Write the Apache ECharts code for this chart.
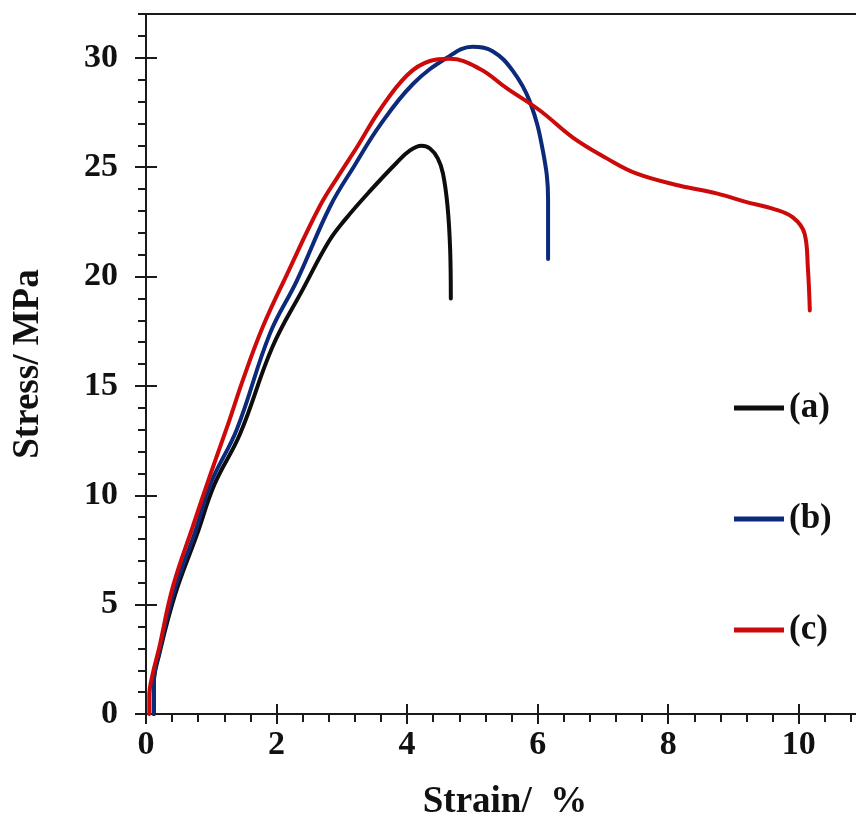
<!DOCTYPE html>
<html>
<head>
<meta charset="utf-8">
<title>Stress–strain curves</title>
<script src="https://cdn.jsdelivr.net/npm/echarts@6/dist/echarts.min.js"></script>
<style>
  html, body { margin: 0; padding: 0; background: #fff; }
  #chart { width: 856px; height: 826px; }
</style>
</head>
<body>
<div id="chart"></div>
<script>
// Stress–strain data, [strain %, stress MPa]
const seriesNames = ['(a)', '(b)', '(c)'];
const seriesColors = ['#0d0d0d', '#0c2a7a', '#cc0a0a'];

const curveA = [
  [0.12, 0], [0.12, 1.4], [0.2, 2.7], [0.45, 5.5], [0.78, 8.2], [1.05, 10.5],
  [1.44, 12.8], [1.94, 16.8], [2.4, 19.4], [2.8, 21.6], [3.05, 22.6],
  [3.43, 23.9], [3.84, 25.2], [4.04, 25.75], [4.22, 25.98], [4.35, 25.85],
  [4.47, 25.4], [4.55, 24.7], [4.62, 23.2], [4.66, 21.2], [4.67, 19.0]
];
const curveB = [
  [0.12, 0], [0.12, 1.5], [0.2, 2.8], [0.43, 5.6], [0.75, 8.3], [1.0, 10.6],
  [1.39, 13.0], [1.9, 17.4], [2.31, 19.8], [2.82, 23.2], [3.2, 25.1],
  [3.58, 26.9], [4.09, 28.8], [4.61, 30.0], [5.0, 30.5], [5.31, 30.3],
  [5.62, 29.4], [5.88, 28.0], [6.08, 25.75], [6.16, 23.5], [6.16, 20.8]
];
const curveC = [
  [0.05, 0], [0.05, 0.8], [0.1, 1.8], [0.2, 3.0], [0.41, 5.8], [0.72, 8.6],
  [0.98, 10.9], [1.24, 13.1], [1.5, 15.4], [1.79, 17.7], [2.16, 20.1],
  [2.66, 23.2], [2.97, 24.7], [3.25, 26.0], [3.58, 27.6], [4.0, 29.2],
  [4.35, 29.85], [4.65, 29.95], [5.11, 29.5], [5.53, 28.6], [6.03, 27.6],
  [6.54, 26.35], [7.06, 25.4], [7.52, 24.7], [8.18, 24.15], [8.74, 23.8],
  [9.2, 23.4], [9.6, 23.1], [9.91, 22.7], [10.09, 21.95], [10.14, 20.4],
  [10.17, 18.45]
];
const curves = [curveA, curveB, curveC];

// Axis ranges and tick labels
const xTickLabels = [0, 2, 4, 6, 8, 10];
const yTickLabels = [0, 5, 10, 15, 20, 25, 30];
const xRange = [0, 11];
const yRange = [0, 32];

const FONT = '"Liberation Serif", "Times New Roman", serif';
const INK = '#1a1a1a';

const chart = echarts.init(document.getElementById('chart'), null, { renderer: 'canvas' });

// Primary axes carry labels, line and outward major ticks.
// Extra axes add inward halves of major ticks and outward minor ticks.
const xAxes = [
  {
    type: 'value', position: 'bottom', min: xRange[0], max: xRange[1], interval: 2,
    splitLine: { show: false },
    axisLine: { onZero: false, lineStyle: { color: INK, width: 2 } },
    axisTick: { inside: false, length: 10, lineStyle: { color: INK, width: 2 }, customValues: xTickLabels },
    axisLabel: {
      customValues: xTickLabels, margin: 14,
      fontFamily: FONT, fontWeight: 'bold', fontSize: 34, color: '#111'
    },
    name: 'Strain/  %', nameLocation: 'middle', nameGap: 70,
    nameTextStyle: { fontFamily: FONT, fontWeight: 'bold', fontSize: 37, color: '#111' }
  },
  {
    type: 'value', position: 'bottom', min: xRange[0], max: xRange[1], interval: 2,
    splitLine: { show: false }, axisLine: { show: false, onZero: false },
    axisTick: { inside: true, length: 10, lineStyle: { color: INK, width: 2 }, customValues: xTickLabels },
    axisLabel: { show: false }
  },
  {
    type: 'value', position: 'bottom', min: xRange[0], max: xRange[1], interval: 0.4,
    splitLine: { show: false }, axisLine: { show: false, onZero: false },
    axisTick: { inside: false, length: 8, lineStyle: { color: INK, width: 2 } },
    axisLabel: { show: false }
  }
];

const yAxes = [
  {
    type: 'value', position: 'left', min: yRange[0], max: yRange[1], interval: 5,
    splitLine: { show: false },
    axisLine: { onZero: false, lineStyle: { color: INK, width: 2 } },
    axisTick: { inside: false, length: 11, lineStyle: { color: INK, width: 2 }, customValues: yTickLabels },
    axisLabel: {
      customValues: yTickLabels, margin: 28,
      fontFamily: FONT, fontWeight: 'bold', fontSize: 34, color: '#111'
    },
    name: 'Stress/ MPa', nameLocation: 'middle', nameGap: 99, nameRotate: 90,
    nameTextStyle: { fontFamily: FONT, fontWeight: 'bold', fontSize: 37, color: '#111' }
  },
  {
    type: 'value', position: 'left', min: yRange[0], max: yRange[1], interval: 5,
    splitLine: { show: false }, axisLine: { show: false, onZero: false },
    axisTick: { inside: true, length: 11, lineStyle: { color: INK, width: 2 }, customValues: yTickLabels },
    axisLabel: { show: false }
  },
  {
    type: 'value', position: 'left', min: yRange[0], max: yRange[1], interval: 1,
    splitLine: { show: false }, axisLine: { show: false, onZero: false },
    axisTick: { inside: false, length: 8, lineStyle: { color: INK, width: 2 } },
    axisLabel: { show: false }
  }
];

const option = {
  animation: false,
  backgroundColor: '#ffffff',
  grid: {
    left: 146, top: 14, right: -8, bottom: 112,
    containLabel: false, outerBoundsMode: 'none',
    show: true, borderColor: INK, borderWidth: 2, backgroundColor: 'transparent'
  },
  xAxis: xAxes,
  yAxis: yAxes,
  legend: {
    orient: 'vertical', left: 729, top: 385,
    itemWidth: 50, itemHeight: 5, itemGap: 75,
    icon: 'rect',
    data: seriesNames,
    textStyle: { fontFamily: FONT, fontWeight: 'bold', fontSize: 35, color: '#111', lineHeight: 36 }
  },
  series: curves.map((pts, i) => ({
    name: seriesNames[i],
    type: 'line',
    data: pts,
    xAxisIndex: 0, yAxisIndex: 0,
    showSymbol: false,
    smooth: 0.4,
    color: seriesColors[i],
    lineStyle: { width: 4, color: seriesColors[i], cap: 'round', join: 'round' },
    z: 3 + i
  }))
};

chart.setOption(option);
</script>
</body>
</html>
